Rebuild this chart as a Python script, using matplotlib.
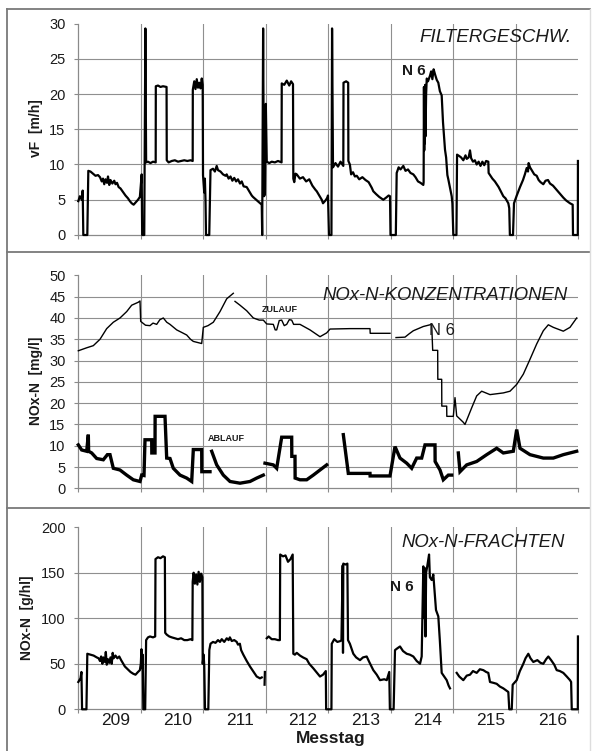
import numpy as np
import matplotlib
matplotlib.use('Agg')
import matplotlib.pyplot as plt
from matplotlib.lines import Line2D

plt.rcParams['font.family'] = ['Liberation Sans', 'DejaVu Sans']

nan = float('nan')

# ---------------- data ----------------
days = [209, 210, 211, 212, 213, 214, 215, 216]
day_bounds = [209.5, 210.5, 211.5, 212.5, 213.5, 214.5, 215.5]

# Filtergeschwindigkeit vF [m/h]
vf_day = [208.505, 208.53, 208.56, 208.575, 208.585, 208.649, 208.665, 208.70, 208.74, 208.78,
          208.82, 208.852, 208.88, 208.90, 208.92, 208.94, 208.964, 208.98, 209.00, 209.02,
          209.05, 209.08, 209.10, 209.124, 209.15, 209.18, 209.22, 209.26, 209.30, 209.33,
          209.359, 209.39, 209.42, 209.46, 209.49, 209.51, 209.519, 209.527, 209.56, 209.578,
          209.59, 209.62, 209.66, 209.70, 209.743, 209.745, 209.78, 209.82, 209.86, 209.917,
          209.92, 209.95, 210.0, 210.05, 210.10, 210.15, 210.20, 210.25, 210.30, 210.335,
          210.337, 210.36, 210.38, 210.40, 210.42, 210.44, 210.46, 210.48, 210.495, 210.50,
          210.52, 210.53, 210.54, 210.548, 210.60, 210.62, 210.66, 210.69, 210.719, 210.74,
          210.78, 210.82, 210.86, 210.879, 210.91, 210.94, 210.97, 211.0, 211.03, 211.06,
          211.092, 211.12, 211.15, 211.199, 211.24, 211.28, 211.30, 211.35, 211.412, 211.44,
          211.447, 211.462, 211.475, 211.49, 211.505, 211.52, 211.56, 211.60, 211.65, 211.70,
          211.757, 211.76, 211.80, 211.84, 211.88, 211.91, 211.94, 211.945, 211.96, 211.98,
          212.0, 212.05, 212.10, 212.15, 212.2, 212.25, 212.3, 212.32, 212.36, 212.40,
          212.42, 212.46, 212.49, 212.50, 212.515, 212.555, 212.565, 212.58, 212.62, 212.66,
          212.70, 212.745, 212.748, 212.79, 212.823, 212.826, 212.85, 212.87, 212.9, 212.93,
          212.96, 213.0, 213.05, 213.1, 213.15, 213.2, 213.225, 213.27, 213.32, 213.385,
          213.43, 213.47, 213.492, 213.50, 213.585, 213.599, 213.63, 213.66, 213.705, 213.74,
          213.78, 213.82, 213.865, 213.9, 213.94, 213.98, 214.025, 214.03, 214.035, 214.04,
          214.045, 214.05, 214.055, 214.06, 214.07, 214.08, 214.10, 214.132, 214.15, 214.17,
          214.19, 214.212, 214.24, 214.265, 214.29, 214.319, 214.34, 214.372, 214.39, 214.41,
          214.425, 214.45, 214.479, 214.49, 214.505, 214.555, 214.565, 214.60, 214.63, 214.665,
          214.70, 214.72, 214.75, 214.772, 214.79, 214.82, 214.85, 214.879, 214.91, 214.94,
          214.97, 215.0, 215.03, 215.065, 215.07, 215.092, 215.13, 215.17, 215.199, 215.23,
          215.27, 215.305, 215.34, 215.385, 215.40, 215.41, 215.46, 215.476, 215.52, 215.572,
          215.62, 215.65, 215.679, 215.70, 215.71, 215.732, 215.76, 215.80, 215.839, 215.87,
          215.90, 215.945, 215.98, 216.02, 216.052, 216.10, 216.159, 216.20, 216.265, 216.31,
          216.372, 216.415, 216.42, 216.48, 216.497, 216.499]
vf_val = [4.8, 5.5, 5.0, 6.3, 0.0, 0.0, 9.1, 9.0, 8.7, 8.4,
          8.5, 8.2, 7.6, 8.0, 7.2, 7.9, 7.4, 8.3, 7.1, 7.8,
          7.3, 7.7, 7.2, 7.4, 6.8, 6.6, 6.1, 5.6, 5.2, 4.8,
          4.5, 4.3, 4.6, 5.0, 5.4, 7.5, 8.6, 0.0, 0.0, 29.3,
          10.3, 10.4, 10.2, 10.4, 10.3, 21.1, 21.2, 21.0, 21.1, 21.0,
          10.6, 10.3, 10.5, 10.6, 10.4, 10.5, 10.6, 10.5, 10.6, 10.5,
          20.6, 21.8, 20.7, 22.1, 20.9, 21.6, 20.8, 22.2, 21.3, 8.5,
          6.0, 8.0, 5.0, 0.0, 0.0, 9.2, 9.4, 9.0, 9.8, 9.2,
          9.0, 8.6, 8.4, 8.6, 8.0, 8.3, 7.7, 8.1, 7.6, 7.9,
          7.3, 7.6, 6.9, 6.8, 6.2, 5.6, 5.4, 5.0, 4.5, 4.3,
          0.0, 29.3, 5.5, 5.7, 18.6, 10.4, 10.2, 10.4, 10.3, 10.5,
          10.3, 21.5, 21.3, 21.9, 21.2, 21.8, 21.4, 8.0, 7.5, 8.7,
          8.6, 8.0, 8.2, 7.6, 7.9, 7.0, 6.4, 6.2, 5.6, 5.0,
          4.5, 4.9, 5.3, 5.6, 0.0, 0.0, 29.3, 9.6, 10.2, 9.7,
          10.4, 9.8, 21.6, 21.8, 21.6, 10.5, 10.0, 8.6, 8.9, 8.3,
          8.4, 7.9, 8.2, 7.8, 7.5, 6.7, 6.2, 5.8, 5.4, 5.0,
          5.3, 5.6, 5.5, 0.0, 0.0, 8.8, 9.6, 9.3, 9.8, 9.1,
          9.3, 8.8, 8.6, 8.2, 7.6, 7.4, 7.1, 7.5, 21.0, 12.0,
          20.8, 13.0, 21.3, 14.0, 20.0, 22.2, 21.8, 22.6, 23.2, 22.1,
          23.5, 22.8, 22.0, 21.6, 20.4, 19.8, 16.0, 12.1, 11.0, 8.5,
          7.9, 6.8, 5.5, 4.5, 0.0, 0.0, 11.4, 11.2, 11.0, 10.6,
          11.3, 10.8, 11.0, 12.0, 10.9, 10.4, 10.6, 10.0, 10.4, 9.8,
          10.4, 9.9, 10.5, 10.4, 8.8, 8.5, 8.0, 7.6, 7.2, 6.8,
          6.1, 5.5, 5.2, 4.5, 3.8, 0.0, 0.0, 4.5, 5.6, 6.8,
          7.8, 8.6, 9.5, 9.0, 10.2, 9.6, 9.2, 8.6, 8.4, 7.8,
          7.5, 7.2, 7.7, 7.8, 7.3, 7.0, 6.4, 6.0, 5.3, 4.9,
          4.5, 4.3, 0.0, 0.0, 0.0, 10.5]

# NOx-N Zulauf [mg/l]
zul_day = [208.505, 208.639, 208.745, 208.852, 208.959, 209.065, 209.172, 209.279, 209.359, 209.465,
           209.492, 209.503, 209.58, 209.652, 209.70, 209.759, 209.81, 209.865, 209.92, 209.972,
           210.079, 210.16, 210.239, 210.30, 210.345, 210.479, 210.505, 210.58, 210.665, 210.772,
           210.879, 210.985, 210.998, 211.012, 211.092, 211.199, 211.305, 211.40, 211.465, 211.519,
           211.625, 211.655, 211.679, 211.72, 211.759, 211.80, 211.839, 211.88, 211.919, 211.95,
           211.99, 212.052, 212.212, 212.372, 212.479, 212.532, 212.852, 213.172, 213.175, 213.492,
           213.54, 213.588, 213.732, 213.80, 213.865, 214.025, 214.159, 214.175, 214.255, 214.257,
           214.319, 214.321, 214.399, 214.401, 214.505, 214.532, 214.559, 214.665, 214.692, 214.799,
           214.879, 214.959, 215.092, 215.305, 215.412, 215.519, 215.625, 215.732, 215.839, 215.945,
           216.025, 216.105, 216.265, 216.372, 216.479]
zul_val = [32.3, 33.0, 33.5, 35.0, 37.5, 39.0, 40.0, 41.5, 43.0, 43.7,
           44.0, 39.2, 38.3, 38.2, 38.8, 38.5, 39.6, 40.0, 39.0, 38.5,
           37.2, 36.6, 36.0, 35.0, 34.5, 34.0, 37.8, 38.2, 39.0, 41.5,
           44.5, 45.8, nan, 43.9, 43.0, 41.7, 40.0, 39.5, 39.5, 38.6,
           38.5, 37.2, 37.2, 39.4, 39.5, 38.2, 38.5, 39.6, 39.5, 38.5,
           38.5, 38.5, 37.2, 35.6, 36.5, 37.4, 37.5, 37.5, 36.4, 36.4,
           nan, 35.4, 35.5, 36.3, 37.0, 38.0, 38.5, 32.4, 32.4, 25.6,
           25.6, 19.3, 19.3, 16.9, 16.9, 21.3, 17.0, 15.5, 15.0, 18.9,
           21.7, 22.8, 22.0, 22.4, 22.8, 24.4, 26.8, 30.3, 33.9, 37.0,
           38.4, 37.8, 36.9, 37.8, 40.0]

# NOx-N Ablauf [mg/l]
abl_day = [208.505, 208.559, 208.639, 208.665, 208.67, 208.719, 208.799, 208.905, 208.97, 209.012,
           209.065, 209.172, 209.279, 209.385, 209.492, 209.519, 209.556, 209.572, 209.679, 209.681,
           209.732, 209.734, 209.892, 209.919, 209.972, 210.025, 210.132, 210.239, 210.319, 210.345,
           210.479, 210.481, 210.612, 210.625, 210.639, 210.719, 210.825, 210.932, 211.092, 211.252,
           211.359, 211.465, 211.478, 211.492, 211.625, 211.679, 211.759, 211.919, 211.921, 211.972,
           211.974, 212.052, 212.159, 212.265, 212.372, 212.479, 212.61, 212.745, 212.825, 213.172,
           213.174, 213.492, 213.572, 213.652, 213.759, 213.839, 213.919, 213.999, 214.052, 214.212,
           214.214, 214.292, 214.345, 214.425, 214.479, 214.53, 214.585, 214.612, 214.719, 214.879,
           215.039, 215.199, 215.305, 215.465, 215.519, 215.572, 215.732, 215.945, 216.105, 216.265,
           216.479]
abl_val = [10.2, 9.0, 8.7, 12.6, 8.7, 8.3, 7.0, 6.7, 7.9, 7.9,
           4.7, 4.3, 3.1, 2.0, 1.6, 3.1, 3.0, 11.4, 11.4, 8.3,
           8.3, 16.9, 16.9, 7.1, 7.0, 4.7, 3.1, 2.4, 1.6, 9.1,
           9.1, 3.9, 3.9, nan, 8.7, 5.5, 3.1, 1.6, 1.2, 1.6,
           2.4, 3.1, nan, 5.9, 5.5, 4.7, 12.0, 12.0, 7.5, 7.5,
           2.4, 2.0, 2.0, 3.1, 4.3, 5.5, nan, 12.6, 3.5, 3.5,
           2.9, 2.9, 9.8, 7.1, 5.9, 4.7, 7.1, 7.1, 10.2, 10.2,
           6.3, 4.3, 2.0, 3.1, 3.1, nan, 8.3, 3.9, 5.5, 6.3,
           7.9, 9.4, 8.3, 8.7, 13.8, 9.4, 7.9, 7.1, 7.1, 7.9,
           8.7]

# NOx-N Frachten [g/hl]
fr_day = [208.505, 208.54, 208.555, 208.565, 208.635, 208.649, 208.70, 208.75, 208.80, 208.83,
          208.852, 208.87, 208.89, 208.905, 208.93, 208.945, 208.96, 208.98, 209.0, 209.02,
          209.04, 209.055, 209.07, 209.10, 209.13, 209.16, 209.19, 209.225, 209.25, 209.279,
          209.31, 209.34, 209.385, 209.42, 209.46, 209.49, 209.505, 209.515, 209.525, 209.535,
          209.545, 209.575, 209.59, 209.62, 209.652, 209.70, 209.735, 209.74, 209.78, 209.82,
          209.86, 209.89, 209.895, 209.92, 209.96, 210.0, 210.05, 210.10, 210.15, 210.20,
          210.25, 210.30, 210.33, 210.335, 210.35, 210.37, 210.39, 210.41, 210.43, 210.45,
          210.47, 210.49, 210.495, 210.51, 210.52, 210.532, 210.585, 210.601, 210.62, 210.66,
          210.70, 210.74, 210.772, 210.80, 210.84, 210.88, 210.91, 210.93, 210.96, 211.0,
          211.04, 211.06, 211.09, 211.11, 211.145, 211.20, 211.252, 211.30, 211.359, 211.412,
          211.44, 211.46, 211.485, 211.49, 211.50, 211.52, 211.55, 211.60, 211.65, 211.70,
          211.73, 211.735, 211.78, 211.82, 211.86, 211.90, 211.935, 211.945, 211.97, 212.0,
          212.052, 212.10, 212.159, 212.20, 212.265, 212.30, 212.372, 212.42, 212.465, 212.47,
          212.555, 212.56, 212.60, 212.65, 212.70, 212.715, 212.735, 212.74, 212.745, 212.78,
          212.81, 212.82, 212.85, 212.88, 212.905, 212.95, 213.012, 213.06, 213.119, 213.16,
          213.225, 213.28, 213.332, 213.40, 213.44, 213.48, 213.49, 213.55, 213.572, 213.61,
          213.652, 213.70, 213.759, 213.81, 213.865, 213.92, 213.972, 213.999, 214.025, 214.04,
          214.05, 214.06, 214.07, 214.09, 214.117, 214.13, 214.159, 214.185, 214.21, 214.228,
          214.265, 214.29, 214.319, 214.36, 214.399, 214.43, 214.452, 214.50, 214.559, 214.60,
          214.665, 214.72, 214.772, 214.82, 214.879, 214.93, 214.985, 215.03, 215.065, 215.092,
          215.15, 215.199, 215.25, 215.305, 215.385, 215.40, 215.44, 215.455, 215.519, 215.57,
          215.625, 215.66, 215.705, 215.74, 215.785, 215.85, 215.90, 215.945, 215.99, 216.025,
          216.07, 216.12, 216.159, 216.21, 216.265, 216.32, 216.372, 216.39, 216.40, 216.46,
          216.497, 216.499]
fr_val = [30, 34, 41, 0, 0, 61, 60, 59, 57, 56,
          53, 58, 50, 57, 52, 63, 49, 55, 51, 57,
          50, 62, 56, 59, 56, 58, 54, 50, 47, 45,
          43, 41, 39, 38, 41, 43, 50, 66, 45, 60,
          0, 0, 76, 79, 80, 79, 80, 165, 167, 166,
          168, 167, 84, 82, 80, 79, 78, 77, 78, 76,
          76, 77, 76, 140, 150, 138, 148, 137, 151, 140,
          149, 145, 50, 60, 48, 0, 0, 65, 72, 74,
          73, 76, 74, 77, 74, 78, 76, 79, 75, 76,
          74, 71, 72, 65, 60, 53, 47, 42, 36, 34,
          35, nan, 27, 41, nan, 78, 80, 77, 77, 76,
          76, 170, 168, 169, 162, 165, 170, 61, 60, 62,
          59, 57, 55, 50, 45, 42, 36, 38, 42, 0,
          0, 72, 77, 74, 75, 76, 158, 62, 160, 159,
          160, 76, 72, 66, 61, 57, 54, 57, 58, 52,
          43, 38, 32, 33, 32, 41, 0, 0, 65, 67,
          69, 64, 61, 60, 58, 53, 50, 58, 157, 100,
          155, 80, 150, 158, 170, 145, 142, 148, 125, 109,
          102, 75, 40, 36, 32, 26, 23, nan, 40, 36,
          32, 37, 38, 42, 40, 44, 43, 41, 40, 30,
          29, 28, 25, 23, 19, 0, 0, 27, 32, 42,
          50, 56, 61, 56, 52, 54, 51, 50, 55, 58,
          54, 49, 43, 42, 40, 36, 32, 30, 0, 0,
          0, 80]

# ---------------- layout ----------------
W, H = 593, 751
fig = plt.figure(figsize=(W / 100, H / 100), dpi=100)


def rect(top, bottom, left=78, right=578):
    return [left / W, 1 - bottom / H, (right - left) / W, (bottom - top) / H]


grid_c = '#8f8f8f'
axis_c = '#8a8a8a'
txt_c = '#1a1a1a'


def style(ax, ymax, ystep):
    ax.set_xlim(208.5, 216.5)
    ax.set_ylim(0, ymax)
    for s in ['top', 'right']:
        ax.spines[s].set_visible(False)
    for s in ['left', 'bottom']:
        ax.spines[s].set_color(axis_c)
        ax.spines[s].set_linewidth(0.9)
    yt = np.arange(0, ymax + ystep / 2, ystep)
    for v in yt[1:-1]:
        ax.axhline(v, color=grid_c, lw=0.8, zorder=0)
    for b in day_bounds:
        ax.axvline(b, color=grid_c, lw=0.8, zorder=0)
    ax.set_yticks(yt)
    ax.set_yticklabels([f'{int(v)}' for v in yt], fontsize=10.5, color=txt_c)
    ax.tick_params(axis='y', length=3, width=0.8, color=axis_c, pad=6)
    ax.set_xticks([d + 0.1 for d in days])
    ax.set_xticks([208.5] + day_bounds + [216.5], minor=True)
    ax.tick_params(axis='x', which='major', length=0, pad=3)
    ax.tick_params(axis='x', which='minor', length=3, width=0.8, color=axis_c, direction='out')
    ax.set_facecolor('none')


ax1 = fig.add_axes(rect(23.5, 235))
ax2 = fig.add_axes(rect(275.4, 488.3))
ax3 = fig.add_axes(rect(527.2, 709.3))

style(ax1, 30, 5)
style(ax2, 50, 5)
style(ax3, 200, 50)
ax1.set_xticklabels([])
ax2.set_xticklabels([])
ax3.set_xticklabels([str(d) for d in days], fontsize=12.5, color=txt_c)

ax1.plot(vf_day, vf_val, color='black', lw=1.6, clip_on=False, zorder=3)
ax2.plot(zul_day, zul_val, color='black', lw=1.0, clip_on=False, zorder=3)
ax2.plot(abl_day, abl_val, color='black', lw=2.4, clip_on=False, zorder=3,
         solid_joinstyle='miter')
ax3.plot(fr_day, fr_val, color='black', lw=1.6, clip_on=False, zorder=3)

# annotations
ax1.text(216.4, 28.0, 'FILTERGESCHW.', style='italic', fontsize=13.5, ha='right', va='center', color=txt_c)
ax1.text(213.88, 23.3, 'N 6', fontweight='bold', fontsize=11, ha='center', va='center', color=txt_c)
ax2.text(216.34, 45.2, 'NOx-N-KONZENTRATIONEN', style='italic', fontsize=13.3, ha='right', va='center', color=txt_c)
ax2.text(214.33, 37.0, 'N 6', fontsize=12, ha='center', va='center', color=txt_c)
ax2.text(211.73, 41.9, 'ZULAUF', fontweight='bold', fontsize=6.5, ha='center', va='center', color=txt_c)
ax2.text(210.88, 11.7, 'ABLAUF', fontweight='bold', fontsize=6.5, ha='center', va='center', color=txt_c)
ax3.text(216.29, 182.7, 'NOx-N-FRACHTEN', style='italic', fontsize=13.3, ha='right', va='center', color=txt_c)
ax3.text(213.68, 134.4, 'N 6', fontweight='bold', fontsize=11, ha='center', va='center', color=txt_c)

# y labels
fig.text(36 / W, 1 - 128 / H, 'vF  [m/h]', rotation=90, fontweight='bold', fontsize=10,
         ha='center', va='center', color=txt_c)
fig.text(36 / W, 1 - 381 / H, 'NOx-N  [mg/l]', rotation=90, fontweight='bold', fontsize=10,
         ha='center', va='center', color=txt_c)
fig.text(27 / W, 1 - 618 / H, 'NOx-N  [g/hl]', rotation=90, fontweight='bold', fontsize=10,
         ha='center', va='center', color=txt_c)
fig.text(331 / W, 1 - 738 / H, 'Messtag', fontweight='bold', fontsize=12.5,
         ha='center', va='center', color=txt_c)

# frame lines
def fline(x0, y0, x1, y1, c='#7a7a7a', lw=1.3):
    fig.add_artist(Line2D([x0 / W, x1 / W], [1 - y0 / H, 1 - y1 / H], color=c, lw=lw))

fline(7, 9, 7, 751)
fline(7, 9, 590, 9)
fline(7, 252, 590, 252)
fline(7, 508, 590, 508)
fline(590, 9, 590, 751, c='#dddddd', lw=1.0)

fig.savefig('out.png', dpi=100)
